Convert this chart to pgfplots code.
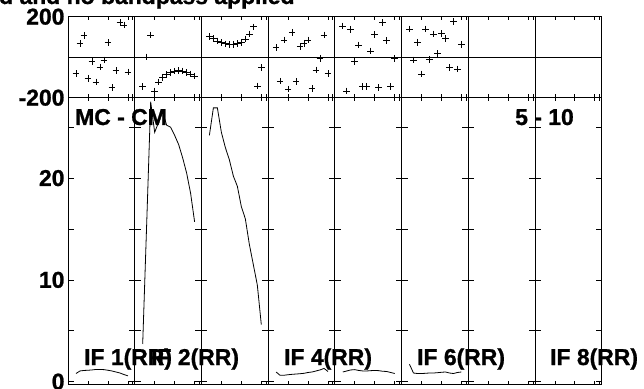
\documentclass[border=0pt]{standalone}
\usepackage{fontspec}
\setmainfont{Liberation Sans}[BoldFeatures={FakeBold=1}]
\usepackage{pgfplots}
\pgfplotsset{compat=1.18}
\def\lblfont{\fontsize{23}{23}\selectfont\bfseries}
\pgfplotsset{
  panel/.style={scale only axis, width=66.7bp, xmin=0, xmax=16.7,
    xtick={5,10,15,16.2}, xticklabels={}, tick align=inside,
    axis line style={line width=0.7bp},
    every tick/.style={black, line width=0.7bp},
    xtick style={/pgfplots/major tick length=3.5bp},
    ytick style={/pgfplots/major tick length=6bp},
    yticklabel style={font=\lblfont},
    anchor=north west},
  phase/.style={panel, height=81bp, ymin=-200, ymax=200,
    ytick={-200,0,200}, yticklabels={}, ymajorgrids,
    grid style={black, line width=0.7bp},
    ytick style={draw=none}},
  amp/.style={panel, height=286.8bp, ymin=-0.28, ymax=27.9,
    ytick={0,5,10,15,20,25}, yticklabels={}},
  pm/.style={only marks, mark=+, mark size=3.3bp, black, mark options={line width=0.8bp}},
  al/.style={black, line width=0.8bp, mark=none},
}
\begin{document}
\begin{tikzpicture}
\useasboundingbox (0,0) rectangle (644bp,389bp);
% ---------- phase row ----------
\begin{axis}[phase, at={(68bp,372.3bp)}, yticklabels={-200,,200}]
\addplot[pm] coordinates {(2,-80) (3,67) (4,108) (5,-104) (6,-22) (7,-122) (8,-48) (9,-14) (10,73) (11,-149) (12,-67) (13,172) (14,159) (15,-73)};
\end{axis}
\begin{axis}[phase, at={(134.7bp,372.3bp)}]
\addplot[pm] coordinates {(2,-146) (3,1) (4,110) (5,-167) (6,-122) (7,-100) (8,-85) (9,-75) (10,-69) (11,-67) (12,-68) (13,-75) (14,-83) (15,-93)};
\end{axis}
\begin{axis}[phase, at={(201.4bp,372.3bp)}]
\addplot[pm] coordinates {(2,101) (3,91) (4,80) (5,72) (6,66) (7,64) (8,64) (9,67) (10,74) (11,90) (12,115) (13,150) (14,-142) (15,-50)};
\end{axis}
\begin{axis}[phase, at={(268.1bp,372.3bp)}]
\addplot[pm] coordinates {(2,47) (3,-118) (4,85) (5,-158) (6,123) (7,-121) (8,52) (9,69) (10,85) (11,-154) (12,-63) (13,-5) (14,110) (15,-80)};
\end{axis}
\begin{axis}[phase, at={(334.8bp,372.3bp)}]
\addplot[pm] coordinates {(2,154) (3,-167) (4,138) (5,-22) (6,60) (7,-146) (8,-146) (9,31) (10,113) (11,-151) (12,170) (13,82) (14,-146) (15,-5)};
\end{axis}
\begin{axis}[phase, at={(401.5bp,372.3bp)}]
\addplot[pm] coordinates {(2,139) (3,-14) (4,74) (5,-83) (6,139) (7,-10) (8,115) (9,19) (10,118) (11,93) (12,-52) (13,175) (14,-58) (15,64)};
\end{axis}
\begin{axis}[phase, at={(468.2bp,372.3bp)}]
\end{axis}
\begin{axis}[phase, at={(534.9bp,372.3bp)}]
\end{axis}
% ---------- amplitude row ----------
\begin{axis}[amp, at={(68bp,291.3bp)}, yticklabels={0,,10,,20,}]
\addplot[al] coordinates {(2,0.8) (3,1.05) (4,1.1) (5,1.12) (6,1.15) (7,1.2) (8,1.2) (9,1.18) (10,1.12) (11,1.05) (12,0.95) (13,0.85) (14,0.7) (15,0.57)};
\end{axis}
\begin{axis}[amp, at={(134.7bp,291.3bp)}]
\addplot[al] coordinates {(2,3.7) (3,15.5) (4,27.5) (5,24.5) (6,25.5) (7,26.5) (8,25.2) (9,25.0) (10,24.2) (11,23.3) (12,22.0) (13,20.5) (14,18.5) (15,15.7)};
\end{axis}
\begin{axis}[amp, at={(201.4bp,291.3bp)}]
\addplot[al] coordinates {(2,24.2) (3,26.9) (4,26.9) (5,24.5) (6,23.0) (7,21.8) (8,20.2) (9,19.2) (10,17.2) (11,16.0) (12,13.5) (13,11.5) (14,9.5) (15,5.6)};
\end{axis}
\begin{axis}[amp, at={(268.1bp,291.3bp)}]
\addplot[al] coordinates {(2,0.95) (3,0.62) (4,0.63) (5,0.68) (6,0.72) (7,0.75) (8,0.78) (9,0.82) (10,0.9) (11,0.95) (12,1.05) (13,1.15) (14,1.3) (15,1.0)};
\end{axis}
\begin{axis}[amp, at={(334.8bp,291.3bp)}]
\addplot[al] coordinates {(2,0.95) (3,1.05) (4,1.15) (5,1.18) (6,1.1) (7,1.05) (8,1.05) (9,1.08) (10,1.1) (11,1.08) (12,1.02) (13,1.0) (14,0.9) (15,0.8)};
\end{axis}
\begin{axis}[amp, at={(401.5bp,291.3bp)}]
\addplot[al] coordinates {(2,1.7) (3,0.85) (4,0.8) (5,0.8) (6,0.82) (7,0.85) (8,0.85) (9,0.88) (10,0.92) (11,0.95) (12,0.85) (13,0.8) (14,0.9) (15,0.95)};
\end{axis}
\begin{axis}[amp, at={(468.2bp,291.3bp)}]
\end{axis}
\begin{axis}[amp, at={(534.9bp,291.3bp)}]
\end{axis}
% ---------- labels ----------
\begin{scope}[every node/.style={font=\lblfont, inner sep=0pt, anchor=base west}]
\node at (-1bp,385bp) {d and no bandpass applied};
\node at (75bp,264bp) {MC - CM};
\node at (515bp,264bp) {5 - 10};
\node at (84bp,24bp) {IF 1(RR)};
\node at (151bp,24bp) {IF 2(RR)};
\node at (284bp,24bp) {IF 4(RR)};
\node at (417bp,24bp) {IF 6(RR)};
\node at (550bp,24bp) {IF 8(RR)};
\end{scope}
\end{tikzpicture}
\end{document}
